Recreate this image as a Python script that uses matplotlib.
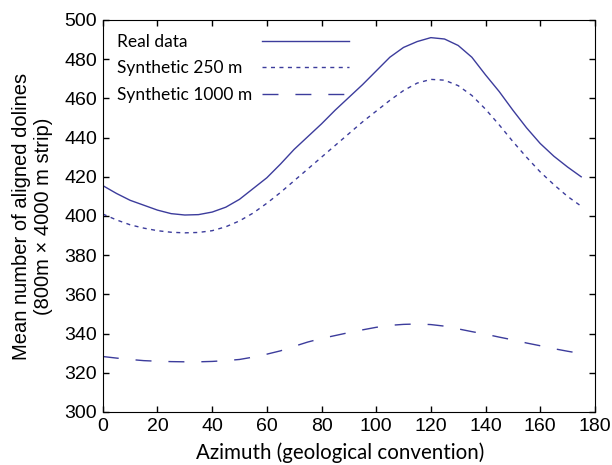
import numpy as np
from matplotlib import pyplot as plt

azimuth = list(range(0, 180, 5))
real_data = [415.5, 411.5, 408, 405.5, 403, 401.2, 400.5, 400.7, 402, 404.5,
             408.5, 414, 419.5, 426.5, 434, 440.5, 447, 454, 460.5, 467,
             474, 481, 486, 489, 491, 490.3, 487, 481, 472, 463.5,
             454, 445, 437, 430.5, 425, 420]
synthetic_250 = [401, 398, 395.5, 393.8, 392.5, 391.7, 391.4, 391.6, 392.5, 394.5,
                 397.5, 401.5, 406.5, 412, 418, 424, 430, 436, 442, 448,
                 453.5, 459, 464, 467.8, 469.7, 469.3, 466.5, 461.5, 454.5, 446.5,
                 438, 430, 422.5, 416, 410, 405]
synthetic_1000 = [328.3, 327.5, 326.8, 326.2, 325.9, 325.7, 325.6, 325.6, 325.8, 326.2,
                  326.8, 328, 329.5, 331.2, 333.5, 335.7, 337.5, 339, 340.5, 341.9,
                  343.2, 344.2, 344.7, 344.9, 344.6, 343.8, 342.4, 341, 339.7, 338.2,
                  336.8, 335.2, 333.8, 332.3, 331, 329.8]

color = '#3c3c9c'
sans = ['Liberation Sans', 'DejaVu Sans']
humanist = ['Lato', 'DejaVu Sans']


def main():
    fig, ax = plt.subplots(figsize=(6.12, 4.65), dpi=100)
    fig.subplots_adjust(left=0.168, right=0.972, top=0.957, bottom=0.114)

    ax.plot(azimuth, real_data, '-', color=color, lw=1.0, label='Real data')
    ax.plot(azimuth, synthetic_250, color=color, lw=1.0, linestyle=(0, (2.9, 3.2)),
            label='Synthetic 250 m')
    ax.plot(azimuth, synthetic_1000, color=color, lw=1.0, linestyle=(0, (11.5, 12.2)),
            label='Synthetic 1000 m')

    ax.set_xlim(0, 180)
    ax.set_ylim(300, 500)
    ax.set_xticks(np.arange(0, 181, 20))
    ax.set_yticks(np.arange(300, 501, 20))
    ax.tick_params(direction='in', top=True, right=True, length=4.5, width=1,
                   labelsize=14, pad=4)
    for lab in ax.get_xticklabels() + ax.get_yticklabels():
        lab.set_family(sans)

    ax.set_xlabel('Azimuth (geological convention)', fontsize=14.8, family=humanist)
    ax.xaxis.set_label_coords(0.482, -0.078)
    ax.set_ylabel('Mean number of aligned dolines\n(800m \u00d7 4000 m strip)', fontsize=14.5,
                  family=sans, linespacing=1.2)
    ax.yaxis.set_label_coords(-0.102, 0.5)

    leg = ax.legend(loc='upper left', frameon=False, markerfirst=False, handlelength=5.0,
                    prop={'family': humanist, 'size': 12.5}, borderaxespad=0.4,
                    labelspacing=0.6, handletextpad=0.6, alignment='left')

    # push the handles so they all end at the same x, texts stay left aligned
    fig.canvas.draw()
    renderer = fig.canvas.get_renderer()
    widths = [t.get_window_extent(renderer).width for t in leg.get_texts()]
    maxw = max(widths)
    rows = leg._legend_handle_box.get_children()[0].get_children()
    for row, w in zip(rows, widths):
        row.sep += (maxw - w) * 72.0 / fig.dpi

    fig.savefig('out.png', dpi=100)


if __name__ == "__main__":
    main()
